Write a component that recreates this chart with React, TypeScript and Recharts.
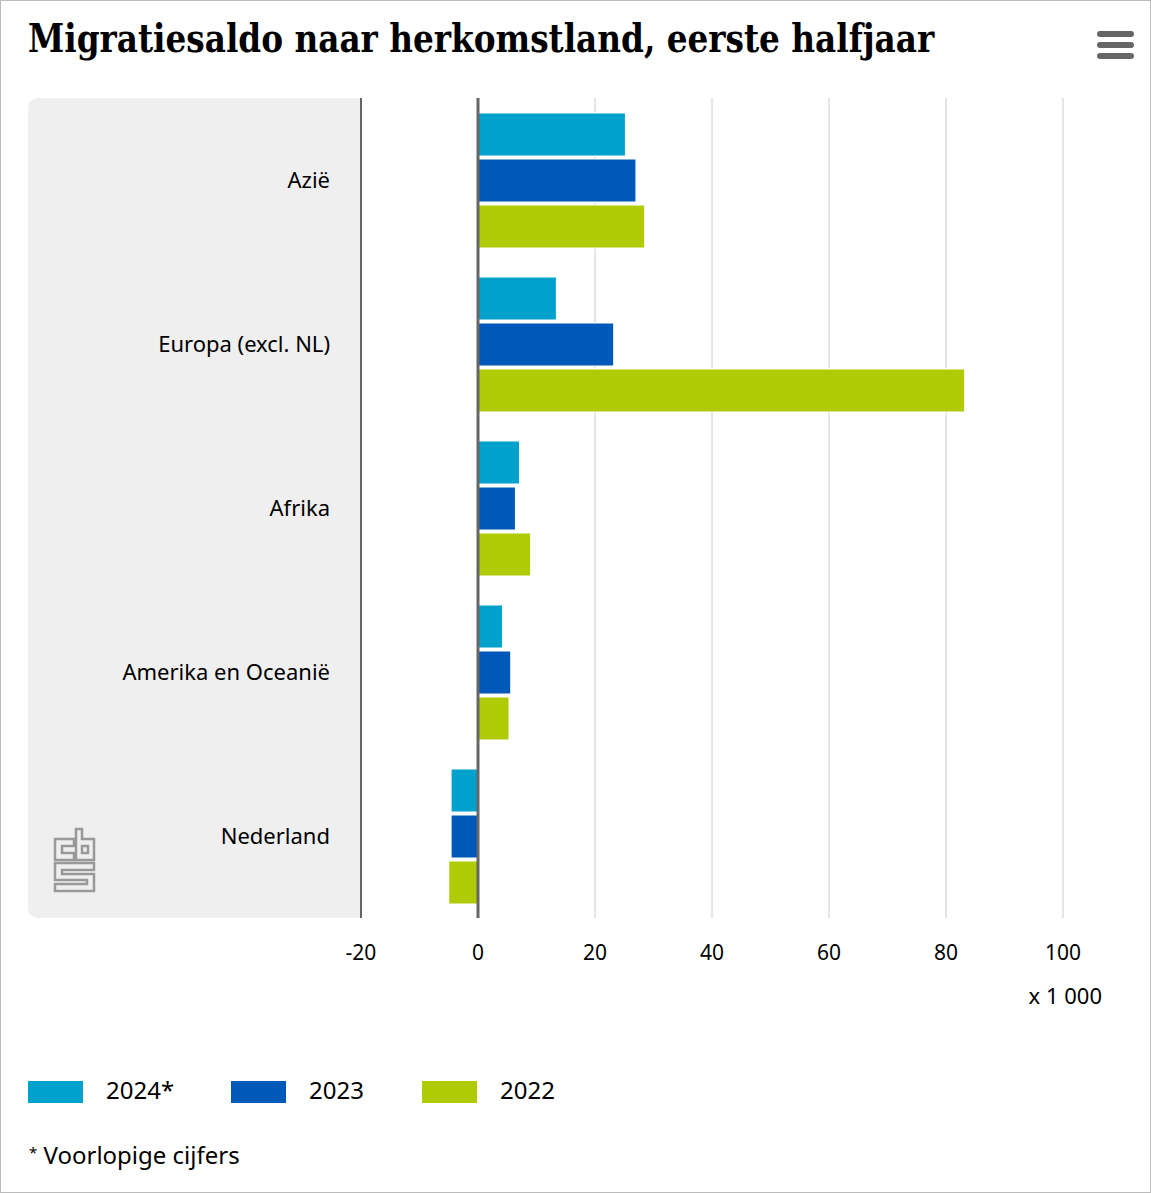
import React from "react";
import { BarChart, Bar, XAxis, YAxis, CartesianGrid, ReferenceLine } from "recharts";

const categories = ["Azië", "Europa (excl. NL)", "Afrika", "Amerika en Oceanië", "Nederland"];
const values2024 = [25.2, 13.4, 7.1, 4.2, -4.6];
const values2023 = [27.0, 23.2, 6.4, 5.6, -4.6];
const values2022 = [28.5, 83.2, 9.0, 5.3, -5.0];
const xTicks = [-20, 0, 20, 40, 60, 80, 100];
const seriesNames = ["2024*", "2023", "2022"];
const seriesColors = ["#00a1cd", "#0058b8", "#afcb05"];

const data = categories.map((c, i) => ({
  name: c,
  s2024: values2024[i],
  s2023: values2023[i],
  s2022: values2022[i],
}));
const keys = ["s2024", "s2023", "s2022"];

const SANS = "'Noto Sans', sans-serif";

function Logo() {
  return (
    <svg width={50} height={70} style={{ position: "absolute", left: 48, top: 824 }} viewBox="48 824 50 70">
      <g fill="none" stroke="#999" strokeWidth={2.5} strokeLinejoin="miter">
        <path d="M54,838 L73,838 L73,845 L61,845 L61,852 L73,852 L73,859 L54,859 Z" />
        <path d="M75,828 L81,828 L81,838 L93,838 L93,859 L75,859 Z" />
        <path d="M81,845 L87,845 L87,852 L81,852 Z" />
        <path d="M54,862 L93,862 L93,869 L61,869 L61,873 L93,873 L93,890 L54,890 L54,883 L86,883 L86,879 L54,879 Z" />
      </g>
    </svg>
  );
}

export default function App() {
  return (
    <div
      style={{
        position: "absolute",
        left: 0,
        top: 0,
        width: 1151,
        height: 1193,
        boxSizing: "border-box",
        border: "1px solid #bbb",
        background: "#fff",
        overflow: "hidden",
      }}
    >
      <div
        style={{
          position: "absolute",
          left: 27,
          top: 13,
          fontFamily: "'DejaVu Serif Condensed', 'DejaVu Serif', serif",
          fontWeight: "bold",
          fontSize: 40,
          lineHeight: "normal",
          color: "#000",
          whiteSpace: "nowrap",
          transform: "scaleX(0.909)",
          transformOrigin: "left top",
        }}
      >
        Migratiesaldo naar herkomstland, eerste halfjaar
      </div>
      <div style={{ position: "absolute", left: 1096, top: 30 }}>
        {[0, 11, 22].map((t) => (
          <div
            key={t}
            style={{
              position: "absolute",
              top: t,
              left: 0,
              width: 37,
              height: 6,
              borderRadius: 3,
              background: "#666",
            }}
          />
        ))}
      </div>
      <div
        style={{
          position: "absolute",
          left: 27,
          top: 97,
          width: 333,
          height: 820,
          background: "#efefef",
          borderRadius: "10px 0 0 10px",
        }}
      />
      <Logo />
      <div style={{ position: "absolute", left: 0, top: 0 }}>
        <BarChart
          width={1151}
          height={1193}
          data={data}
          layout="vertical"
          margin={{ top: 97, right: 89, left: 0, bottom: 246 }}
          barSize={43}
          barGap={3}
        >
          <CartesianGrid horizontal={false} stroke="#ccc" strokeWidth={1} />
          <XAxis
            type="number"
            domain={[-20, 100]}
            ticks={xTicks}
            axisLine={false}
            tickLine={false}
            tickSize={0}
            tickMargin={27}
            height={30}
            tick={{ fill: "#000", fontSize: 21, fontFamily: SANS }}
            interval={0}
          />
          <YAxis
            type="category"
            dataKey="name"
            width={360}
            axisLine={{ stroke: "#666", strokeWidth: 2 }}
            tickLine={false}
            tickSize={0}
            tickMargin={31}
            tick={{ fill: "#000", fontSize: 22, fontFamily: SANS }}
            interval={0}
          />
          <ReferenceLine x={0} stroke="#666" strokeWidth={3} />
          {keys.map((k, i) => (
            <Bar
              key={k}
              dataKey={k}
              name={seriesNames[i]}
              fill={seriesColors[i]}
              stroke="#fff"
              strokeWidth={1}
              isAnimationActive={false}
            />
          ))}
        </BarChart>
      </div>
      <div
        style={{
          position: "absolute",
          right: 48,
          top: 979,
          fontFamily: SANS,
          fontSize: 22,
          color: "#000",
        }}
      >
        x 1 000
      </div>
      {seriesNames.map((n, i) => {
        const lefts = [27, 230, 421];
        return (
          <div key={n} style={{ position: "absolute", left: lefts[i], top: 1080, height: 22 }}>
            <div style={{ position: "absolute", left: 0, top: 0, width: 55, height: 22, background: seriesColors[i] }} />
            <div
              style={{
                position: "absolute",
                left: 78,
                top: -8,
                fontFamily: SANS,
                fontSize: 24,
                color: "#000",
                whiteSpace: "nowrap",
                lineHeight: "34px",
              }}
            >
              {n}
            </div>
          </div>
        );
      })}
      <div
        style={{
          position: "absolute",
          left: 28,
          top: 1137,
          fontFamily: SANS,
          fontSize: 24,
          color: "#000",
          whiteSpace: "nowrap",
        }}
      >
        <span style={{ fontSize: 15, verticalAlign: "top", position: "relative", top: 4 }}>*</span> Voorlopige cijfers
      </div>
    </div>
  );
}
